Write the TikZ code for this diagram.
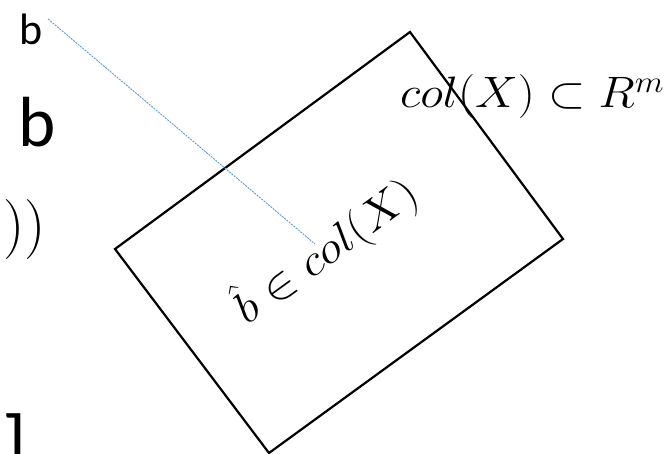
\RequirePackage{fix-cm}
\documentclass[tikz,border=0pt]{standalone}
\usepackage{fontspec}
\usepackage{graphicx}
\newfontfamily\calib{Carlito}
\definecolor{officeblue}{RGB}{91,155,213}
\tikzset{
  plane/.style={draw=black, line width=2.2pt, line join=miter},
  proj/.style={draw=officeblue, line width=0.9pt, dash pattern=on 2pt off 1pt},
  mathlbl/.style={inner sep=0pt, font=\fontsize{44}{52}\selectfont},
  sanslbl/.style={inner sep=0pt},
}
\begin{document}
\begin{tikzpicture}[x=1pt,y=-1pt]
\useasboundingbox (0,0) rectangle (667,454);
\begin{scope}
\clip (0,0) rectangle (667,454);
% rectangle (plane col(X))
\coordinate (T) at (410,32);
\coordinate (R) at (563,239);
\coordinate (B) at (269,453);
\coordinate (L) at (115,249);
\draw[plane] (T) -- (R) -- (B) -- (L) -- cycle;
% left side texts
\node[sanslbl, anchor=base west, font=\calib\fontsize{44}{52}\selectfont] (bsmall) at (19,45) {b};
\node[sanslbl, anchor=base west, font=\calib\fontsize{71}{80}\selectfont] (bbig) at (18,147) {b};
\node[mathlbl, anchor=base east, font=\fontsize{60}{70}\selectfont] (parens) at (46,245) {$))$};
\node[sanslbl, anchor=base west, font=\calib\fontsize{80}{90}\selectfont] (brack) at (2,471) {]};
% labels
\node[mathlbl, anchor=base west] (colx) at (400,108) {\scalebox{1.09}[1]{$col(X)\subset R^m$}};
\node[mathlbl, anchor=base west, rotate=36] (bhat) at (247,326) {\scalebox{1.1}[1]{$\hat{b}\in col(X)$}};
% projection line
\coordinate (bend) at (315,244);
\coordinate (bstart) at (48,19);
\draw[proj] (bstart) -- (bend);
\end{scope}
\end{tikzpicture}
\end{document}
